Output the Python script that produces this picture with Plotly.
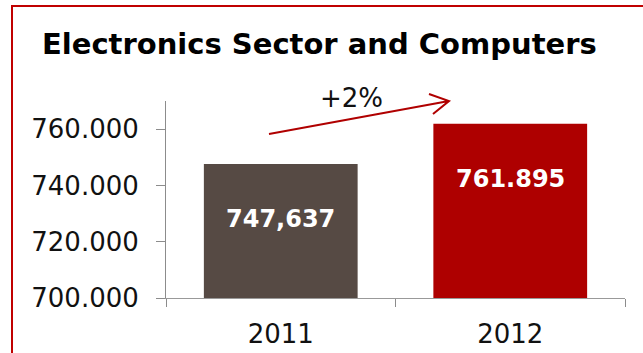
import plotly.graph_objects as go

# Sector totals by year
years = ["2011", "2012"]
sales = [747637, 761895]
sales_labels = ["747,637", "761.895"]
bar_colors = ["#564A44", "#AE0000"]
growth_label = "+2%"

y_ticks = [700000, 720000, 740000, 760000]

W, H = 643, 353
L, R, T, B = 166, 18, 101, 55
PW, PH = W - L - R, H - T - B


def px_to_paper(x, y):
    return (x - L) / PW, 1 - (y - T) / PH


fig = go.Figure()
fig.add_trace(go.Bar(
    x=years,
    y=sales,
    width=0.67,
    marker=dict(color=bar_colors, line=dict(width=0)),
    hoverinfo="x+y",
))

# value labels inside bars, near the top (category axis uses serial positions)
for i, (v, lab) in enumerate(zip(sales, sales_labels)):
    fig.add_annotation(
        x=i, y=v, xref="x", yref="y", text=lab, showarrow=False,
        yshift=-55, yanchor="middle", xanchor="center",
        font=dict(family="DejaVu Sans", size=24, color="white", weight="bold"),
    )

# growth note with an open-headed arrow
gx, gy = px_to_paper(351, 98)
fig.add_annotation(
    x=gx, y=gy, xref="paper", yref="paper", text=growth_label, showarrow=False,
    xanchor="center", yanchor="middle",
    font=dict(family="DejaVu Sans", size=26, color="#111111"),
)
p0 = px_to_paper(269, 134)
p1 = px_to_paper(449, 101)
a1 = px_to_paper(429, 94)
a2 = px_to_paper(433, 114)
path = (f"M {p0[0]} {p0[1]} L {p1[0]} {p1[1]} "
        f"M {a1[0]} {a1[1]} L {p1[0]} {p1[1]} L {a2[0]} {a2[1]}")
fig.add_shape(type="path", path=path, xref="paper", yref="paper",
              line=dict(color="#B00000", width=2))

# frame around the chart (top and left edges visible)
c0 = px_to_paper(12, 6)
c1 = px_to_paper(800, 500)
fig.add_shape(type="rect", xref="paper", yref="paper",
              x0=c0[0], y0=c1[1], x1=c1[0], y1=c0[1],
              line=dict(color="#C00000", width=2), layer="below")

fig.update_layout(
    width=W, height=H,
    margin=dict(l=L, r=R, t=T, b=B, autoexpand=False),
    paper_bgcolor="white", plot_bgcolor="white",
    separators=",.",
    showlegend=False,
    title=dict(
        text="Electronics Sector and Computers",
        xref="container", yref="container",
        x=42 / W, xanchor="left",
        y=1 - 44 / H, yanchor="middle",
        font=dict(family="DejaVu Sans", size=29, color="black", weight="bold"),
    ),
    font=dict(family="DejaVu Sans", size=26, color="#111111"),
)
fig.update_xaxes(
    type="category", categoryorder="array", categoryarray=years,
    range=[-0.5, 1.5], automargin=False,
    showline=True, linecolor="#999999", linewidth=1,
    ticks="outside", tickson="boundaries", ticklen=8, tickcolor="#8C8C8C",
    showgrid=False, zeroline=False, tickangle=0,
    tickfont=dict(family="DejaVu Sans", size=26, color="#111111"),
    ticklabelstandoff=13,
)
fig.update_yaxes(
    range=[700000, 770000], tickvals=y_ticks, tickformat=",.0f",
    automargin=False,
    showline=True, linecolor="#8C8C8C", linewidth=1,
    ticks="outside", ticklen=9, tickcolor="#8C8C8C",
    showgrid=False, zeroline=False,
    tickfont=dict(family="DejaVu Sans", size=26, color="#111111"),
    ticklabelstandoff=12,
)

fig.write_html("out.html")
